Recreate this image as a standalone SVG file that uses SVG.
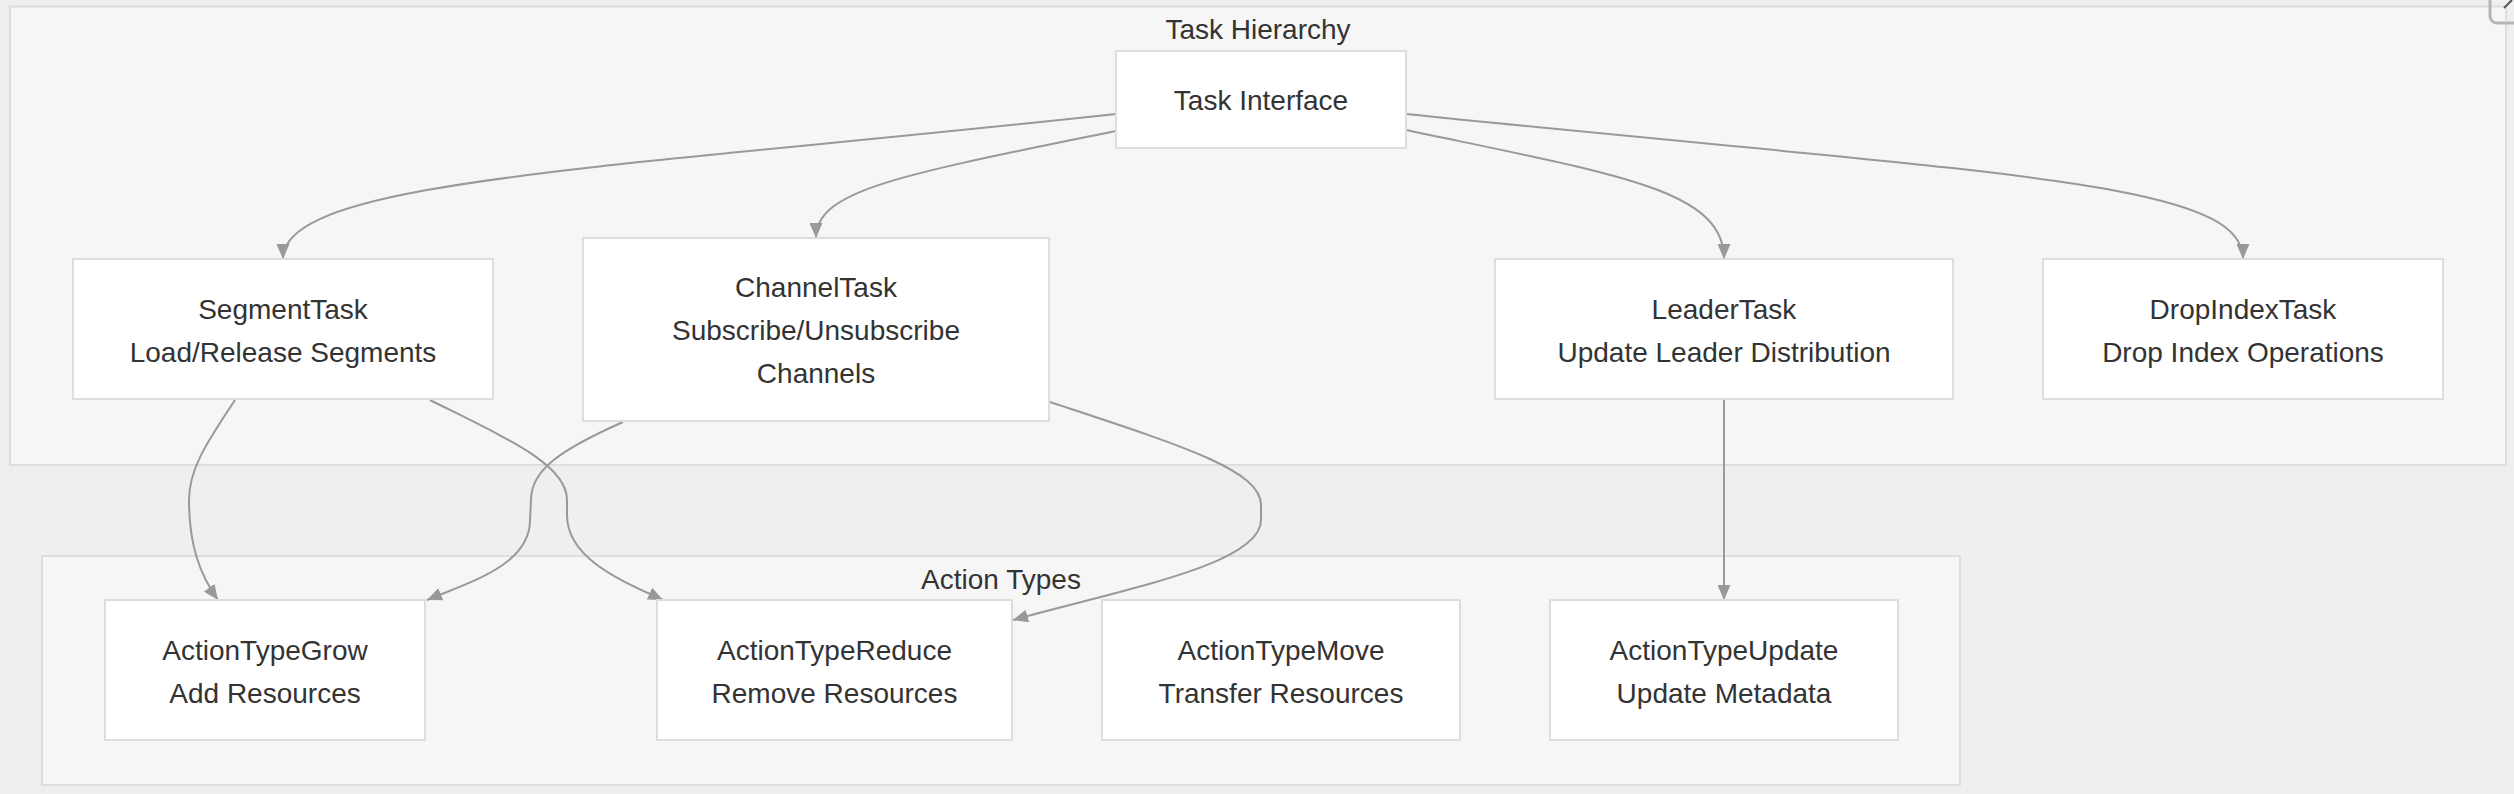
<svg xmlns="http://www.w3.org/2000/svg" width="2514" height="794" viewBox="0 0 2514 794">
<defs>
<style>
.bg{fill:#f0efee}
.cluster{fill:#f6f6f6;stroke:#dedede;stroke-width:2}
.node rect{fill:#ffffff;stroke:#dddddd;stroke-width:2}
text{font-family:"Liberation Sans",Arial,Helvetica,sans-serif;font-size:28px;fill:#333333;text-anchor:middle}
.edge{fill:none;stroke:#999999;stroke-width:2}
</style>
<marker id="arrow" viewBox="0 0 15 13" refX="15" refY="6.5" markerWidth="15" markerHeight="13" markerUnits="userSpaceOnUse" orient="auto">
<path d="M0,0 L15,6.5 L0,13 z" fill="#999999"/>
</marker>
</defs>
<rect class="bg" x="0" y="0" width="2514" height="794"/>
<g id="cluster-task-hierarchy">
<rect class="cluster" x="10" y="6.5" width="2496" height="458.5"/>
<text x="1258" y="39">Task Hierarchy</text>
</g>
<g id="cluster-action-types">
<rect class="cluster" x="42" y="556" width="1918" height="229"/>
<text x="1001" y="589">Action Types</text>
</g>
<g id="corner-button">
<rect x="2490" y="-12" width="40" height="35" rx="7" fill="none" stroke="#b5b5b5" stroke-width="3"/>
<line x1="2504" y1="8" x2="2512" y2="0" stroke="#555" stroke-width="2"/>
</g>
<g id="edges">
<path class="edge" d="M1116,114 C600,170 283,180 283,259" marker-end="url(#arrow)"/>
<path class="edge" d="M1116,131 C900,175 816,190 816,238" marker-end="url(#arrow)"/>
<path class="edge" d="M1406,130 C1620,175 1724,190 1724,259" marker-end="url(#arrow)"/>
<path class="edge" d="M1406,114 C2000,175 2243,180 2243,259" marker-end="url(#arrow)"/>
<path class="edge" d="M235,400 C205,445 189,470 189,500 C189,545 200,575 218,600" marker-end="url(#arrow)"/>
<path class="edge" d="M430,400 C510,440 567,465 567,500 L567,515 C567,560 625,582 663,600" marker-end="url(#arrow)"/>
<path class="edge" d="M623,422 C560,450 531,470 531,500 L530,520 C530,565 470,582 427,600" marker-end="url(#arrow)"/>
<path class="edge" d="M1050,402 C1180,445 1261,470 1261,505 L1261,520 C1261,565 1120,590 1013,620" marker-end="url(#arrow)"/>
<path class="edge" d="M1724,399 L1724,600" marker-end="url(#arrow)"/>
</g>
<g id="node-task-interface" class="node">
<rect x="1116" y="51" width="290" height="97"/>
<text x="1261" y="110">Task Interface</text>
</g>
<g id="node-segment-task" class="node">
<rect x="73" y="259" width="420" height="140"/>
<text x="283" y="318.5">SegmentTask</text>
<text x="283" y="361.5">Load/Release Segments</text>
</g>
<g id="node-channel-task" class="node">
<rect x="583" y="238" width="466" height="183"/>
<text x="816" y="297">ChannelTask</text>
<text x="816" y="340">Subscribe/Unsubscribe</text>
<text x="816" y="383">Channels</text>
</g>
<g id="node-leader-task" class="node">
<rect x="1495" y="259" width="458" height="140"/>
<text x="1724" y="318.5">LeaderTask</text>
<text x="1724" y="361.5">Update Leader Distribution</text>
</g>
<g id="node-dropindex-task" class="node">
<rect x="2043" y="259" width="400" height="140"/>
<text x="2243" y="318.5">DropIndexTask</text>
<text x="2243" y="361.5">Drop Index Operations</text>
</g>
<g id="node-action-grow" class="node">
<rect x="105" y="600" width="320" height="140"/>
<text x="265" y="659.5">ActionTypeGrow</text>
<text x="265" y="702.5">Add Resources</text>
</g>
<g id="node-action-reduce" class="node">
<rect x="657" y="600" width="355" height="140"/>
<text x="834.5" y="659.5">ActionTypeReduce</text>
<text x="834.5" y="702.5">Remove Resources</text>
</g>
<g id="node-action-move" class="node">
<rect x="1102" y="600" width="358" height="140"/>
<text x="1281" y="659.5">ActionTypeMove</text>
<text x="1281" y="702.5">Transfer Resources</text>
</g>
<g id="node-action-update" class="node">
<rect x="1550" y="600" width="348" height="140"/>
<text x="1724" y="659.5">ActionTypeUpdate</text>
<text x="1724" y="702.5">Update Metadata</text>
</g>
</svg>
